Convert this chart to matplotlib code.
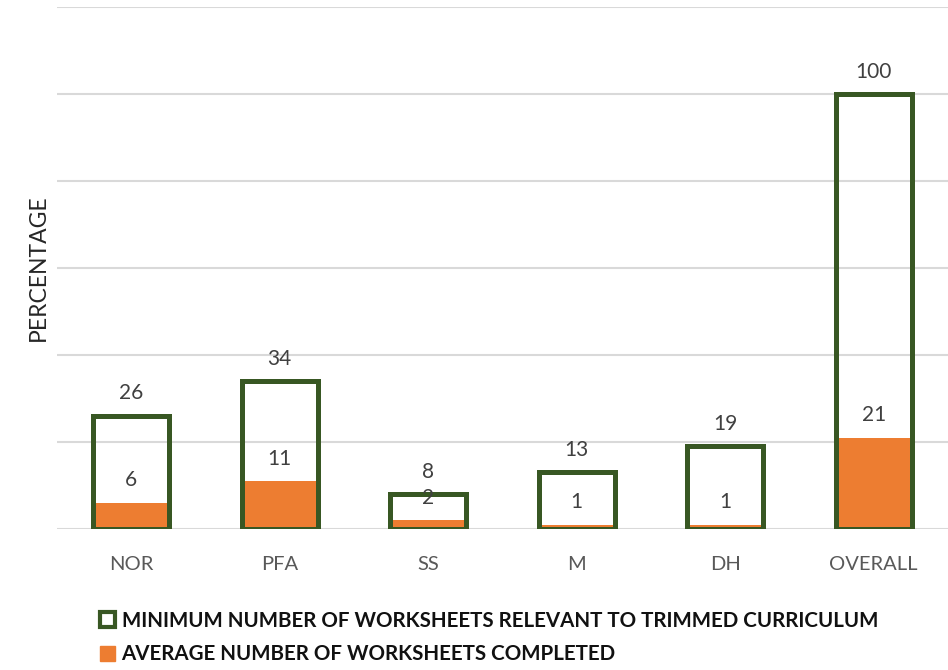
import matplotlib
matplotlib.use("Agg")
import matplotlib.pyplot as plt
from matplotlib.patches import Patch

categories = ["NOR", "PFA", "SS", "M", "DH", "OVERALL"]
minimum_worksheets = [26, 34, 8, 13, 19, 100]
average_completed = [6, 11, 2, 1, 1, 21]
series_names = [
    "MINIMUM NUMBER OF WORKSHEETS RELEVANT TO TRIMMED CURRICULUM",
    "AVERAGE NUMBER OF WORKSHEETS COMPLETED",
]

GREEN = "#385723"
ORANGE = "#ED7D31"
GRID = "#D9D9D9"

plt.rcParams["font.family"] = ["Lato", "DejaVu Sans"]

fig = plt.figure(figsize=(9.48, 6.70), dpi=100)
ax = fig.add_axes([57 / 948, 1 - 529 / 670, 1 - 57 / 948, (529 - 7) / 670])

x = list(range(len(categories)))
width = 0.51

ax.bar(x, average_completed, width=width, color=ORANGE, edgecolor="none", zorder=2)
ax.bar(x, minimum_worksheets, width=width, facecolor="none", edgecolor=GREEN,
       linewidth=3.6, zorder=3)

for xi, v in zip(x, minimum_worksheets):
    ax.annotate(f"{v}", (xi, v), xytext=(0, 9), textcoords="offset points",
                ha="center", va="bottom", fontsize=15, color="#404040")
for xi, v in zip(x, average_completed):
    ax.annotate(f"{v}", (xi, v), xytext=(0, 9), textcoords="offset points",
                ha="center", va="bottom", fontsize=15, color="#404040")

ax.set_xlim(-0.5, len(categories) - 0.5)
ax.set_ylim(0, 120)
ax.set_yticks(range(0, 121, 20))
ax.yaxis.grid(True, color=GRID, linewidth=1.5, zorder=0)
ax.set_axisbelow(True)
ax.tick_params(axis="y", left=False, labelleft=False)
ax.tick_params(axis="x", bottom=False, labelsize=14.5, labelcolor="#595959", pad=16)
ax.set_xticks(x)
ax.set_xticklabels(categories)
for s in ax.spines.values():
    s.set_visible(False)

fig.text(38 / 948, 1 - 268 / 670, "PERCENTAGE", rotation=90, ha="center",
         va="center", fontsize=16.5, color="#262626")

handles = [
    Patch(facecolor="white", edgecolor=GREEN, linewidth=3),
    Patch(facecolor=ORANGE, edgecolor=ORANGE),
]
leg = fig.legend(handles, series_names, loc="upper left",
                 bbox_to_anchor=(100 / 948, 1 - 611 / 670), frameon=False,
                 prop={"weight": "bold", "size": 14.8}, handlelength=0.75,
                 handleheight=0.75, handletextpad=0.3, labelspacing=0.65,
                 borderaxespad=0, borderpad=0)
for t in leg.get_texts():
    t.set_color("#111111")

fig.savefig("out.png", dpi=100)
